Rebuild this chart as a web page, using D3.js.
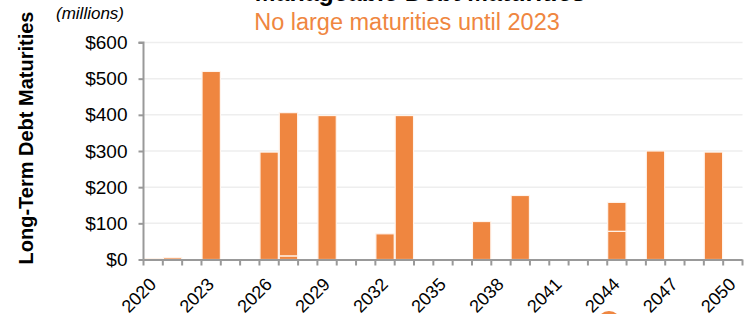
<!DOCTYPE html>
<html>
<head>
<meta charset="utf-8">
<script src="https://cdn.jsdelivr.net/npm/d3@7"></script>
<style>
  body { margin: 0; background: #fff; }
  svg text { font-family: Arial, "Liberation Sans", sans-serif; }
</style>
</head>
<body>
<svg id="chart" width="749" height="314"></svg>
<script>
var years = [2020, 2021, 2022, 2023, 2024, 2025, 2026, 2027, 2028, 2029,
             2030, 2031, 2032, 2033, 2034, 2035, 2036, 2037, 2038, 2039,
             2040, 2041, 2042, 2043, 2044, 2045, 2046, 2047, 2048, 2049, 2050];
// first tranche maturing each year ($ millions)
var trancheA = [2, 5, 0, 520, 0, 0, 297, 10, 0, 398,
                0, 0, 71, 398, 0, 0, 0, 105, 0, 177,
                0, 0, 0, 0, 78, 0, 300, 0, 0, 297, 0];
// second tranche, stacked on top
var trancheB = [0, 0, 0, 0, 0, 0, 0, 396, 0, 0,
                0, 0, 0, 0, 0, 0, 0, 0, 0, 0,
                0, 0, 0, 0, 80, 0, 0, 0, 0, 0, 0];
var yTicks = [0, 100, 200, 300, 400, 500, 600];
var labelYears = [2020, 2023, 2026, 2029, 2032, 2035, 2038, 2041, 2044, 2047, 2050];

var orange = '#ef8640';

(function () {
  var svg = d3.select('#chart');
  var left = 143.5, right = 742.5, plotTop = 42.5, bottom = 259.5;

  var x = d3.scaleBand().domain(years).range([left, right]).paddingInner(0.05).paddingOuter(0.03);
  var y = d3.scaleLinear().domain([0, 600]).range([bottom, plotTop]);

  // gridlines
  svg.append('g')
     .selectAll('line')
     .data(yTicks.slice(1))
     .enter().append('line')
     .attr('x1', left).attr('x2', right)
     .attr('y1', function (d) { return y(d); })
     .attr('y2', function (d) { return y(d); })
     .style('stroke', '#eeeeee')
     .style('stroke-width', 1.5);

  // stacked bars
  var rows = years.map(function (yr, i) { return {year: yr, a: trancheA[i], b: trancheB[i]}; });
  var series = d3.stack().keys(['a', 'b'])(rows);

  svg.append('g')
     .selectAll('g')
     .data(series)
     .enter().append('g')
     .selectAll('rect')
     .data(function (s) { return s.filter(function (d) { return d[1] > d[0]; }); })
     .enter().append('rect')
     .attr('x', function (d) { return x(d.data.year); })
     .attr('width', x.bandwidth())
     .attr('y', function (d) { return y(d[1]); })
     .attr('height', function (d) { return y(d[0]) - y(d[1]); })
     .style('fill', orange)
     .style('stroke', '#fff4ec')
     .style('stroke-width', 1.2);

  // y axis
  var yAxis = d3.axisLeft(y).tickValues(yTicks).tickSize(5).tickPadding(11)
                .tickFormat(function (d) { return '$' + d; });
  var yg = svg.append('g').attr('transform', 'translate(' + left + ',0)').call(yAxis);
  yg.select('.domain').style('stroke', '#999').style('stroke-width', 2)
    .attr('d', 'M-5,' + plotTop + 'H0V' + bottom);
  yg.selectAll('.tick line').style('stroke', '#999').style('stroke-width', 2);
  yg.selectAll('.tick text').style('font-size', '19px').style('fill', '#000')
    .style('font-family', 'Arial, "Liberation Sans", sans-serif');

  // x axis: ticks on category boundaries
  var xg = svg.append('g');
  xg.append('line')
    .attr('x1', left).attr('x2', right)
    .attr('y1', bottom + 0.5).attr('y2', bottom + 0.5)
    .style('stroke', '#999').style('stroke-width', 2);
  var step = (right - left) / years.length;
  xg.selectAll('line.tk')
    .data(d3.range(years.length + 1))
    .enter().append('line')
    .attr('class', 'tk')
    .attr('x1', function (i) { return left + i * step; })
    .attr('x2', function (i) { return left + i * step; })
    .attr('y1', bottom).attr('y2', bottom + 6)
    .style('stroke', '#999').style('stroke-width', 2);

  xg.selectAll('text')
    .data(labelYears)
    .enter().append('text')
    .attr('text-anchor', 'end')
    .attr('transform', function (d) {
      var cx = x(d) + x.bandwidth() / 2 + 4;
      return 'translate(' + cx + ',' + (bottom + 26) + ') rotate(-45)';
    })
    .style('font-size', '18px')
    .style('fill', '#000')
    .text(function (d) { return d; });

  // titles
  svg.append('text')
     .attr('x', 420).attr('y', 1)
     .attr('text-anchor', 'middle')
     .style('font-size', '25px').style('font-weight', 'bold')
     .text('Manageable Debt Maturities');

  svg.append('text')
     .attr('x', 407).attr('y', 30)
     .attr('text-anchor', 'middle')
     .style('font-size', '23.5px')
     .style('fill', orange)
     .text('No large maturities until 2023');

  svg.append('text')
     .attr('x', 56).attr('y', 19)
     .style('font-size', '17px').style('font-style', 'italic')
     .text('(millions)');

  svg.append('text')
     .attr('transform', 'translate(33,138) rotate(-90)')
     .attr('text-anchor', 'middle')
     .style('font-size', '20px').style('font-weight', 'bold')
     .text('Long-Term Debt Maturities');

  // logo fragment at the bottom edge
  svg.append('circle')
     .attr('cx', 609).attr('cy', 323).attr('r', 12)
     .style('fill', orange);
})();
</script>
</body>
</html>
